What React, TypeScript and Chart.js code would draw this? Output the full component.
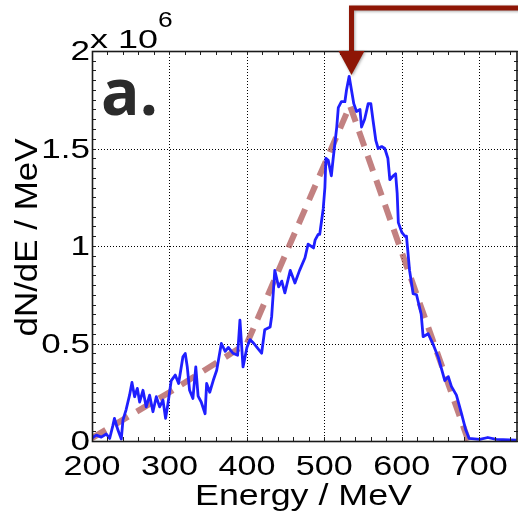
import React, { useEffect, useRef } from "react";
import { Chart, registerables } from "chart.js";

Chart.register(...registerables);

// Measured spectrum (dN/dE in units of 10^6 per MeV)
const energy = [
  199, 205.6, 212, 218.5, 222.8, 227, 229, 233.5, 237.8, 240, 244, 248.5, 251.6, 255, 258.5,
  261.5, 265.8, 270, 274.4, 278.7, 283, 287.3, 291.6, 295, 298, 302.3, 307.5, 311.8, 317.4,
  320.4, 323, 326, 330.3, 334, 337, 341, 346, 348, 352, 356.5, 361, 367, 372, 376, 382, 388,
  391, 395, 400, 404, 409, 413, 419, 423, 430, 432, 436, 441, 445, 449, 456, 462, 468, 475,
  479, 486, 488, 492, 494, 498.5, 500.7, 502, 505, 509, 511.4, 516, 518, 522, 526.5, 528.6,
  532, 535, 538, 541.5, 546, 548, 552, 556.6, 560, 563, 566.5, 569.5, 574, 578, 582, 584.5,
  589, 592, 594, 595.5, 600, 604, 606, 610, 614.6, 619, 625, 627.5, 634, 640, 647, 655.5,
  660, 664, 670.5, 677, 682.6, 686.9, 700.6, 711, 722, 748,
];
const counts = [
  0.013, 0.03, 0.02, 0.036, 0.013, 0.08, 0.116, 0.056, 0.01, 0.108, 0.16, 0.235, 0.3, 0.227, 0.27,
  0.2, 0.26, 0.175, 0.235, 0.15, 0.227, 0.175, 0.21, 0.116, 0.19, 0.31, 0.338, 0.295, 0.432,
  0.449, 0.38, 0.26, 0.218, 0.38, 0.23, 0.2, 0.14, 0.295, 0.25, 0.31, 0.363, 0.5, 0.46, 0.48, 0.45, 0.44,
  0.62, 0.38, 0.48, 0.52, 0.5, 0.48, 0.45, 0.57, 0.585, 0.64, 0.875, 0.79, 0.82, 0.76, 0.875, 0.81, 0.875, 0.94,
  1.01, 0.99, 1.03, 1.06, 1.06, 1.19, 1.3, 1.45, 1.44, 1.36, 1.45, 1.61, 1.71, 1.74, 1.74, 1.8,
  1.87, 1.8, 1.73, 1.69, 1.7, 1.61, 1.65, 1.73, 1.73, 1.64, 1.54, 1.5, 1.51, 1.5, 1.45, 1.34,
  1.36, 1.37, 1.27, 1.12, 1.07, 1.05, 1.05, 0.875, 0.755, 0.75, 0.65, 0.535, 0.55, 0.5, 0.43, 0.31,
  0.33, 0.28, 0.235, 0.142, 0.056, 0.013, 0.008, 0.018, 0.008, 0.005,
];

// Fitted (dashed) model
const fitEnergy = [200, 300, 400, 533, 686];
const fitCounts = [0.015, 0.25, 0.5, 1.72, 0];

// Axes
const xTicks = [200, 300, 400, 500, 600, 700];
const xTickLabels = ["200", "300", "400", "500", "600", "700"];
const yTicks = [0, 0.5, 1, 1.5, 2];
const yTickLabels = ["0", "0.5", "1", "1.5", "2"];
const xMin = 200, xMax = 750, yMin = 0, yMax = 2;
const xTitle = "Energy / MeV";
const yTitle = "dN/dE / MeV";
const panelLabel = "a.";
const FONT = '"Liberation Sans", Arial, sans-serif';

function drawText(ctx, s, x, y, font, align, sx, baseline = "alphabetic") {
  ctx.save();
  ctx.translate(x, y);
  ctx.scale(sx, 1);
  ctx.font = font;
  ctx.textAlign = align;
  ctx.textBaseline = baseline;
  ctx.fillText(s, 0, 0);
  ctx.restore();
}

function fitWidth(ctx, s, font, target) {
  ctx.save();
  ctx.font = font;
  const w = ctx.measureText(s).width;
  ctx.restore();
  return target / w;
}

const overlay = {
  id: "overlay",
  beforeDatasetsDraw(chart) {
    const { ctx, chartArea: a, scales } = chart;
    const x = scales.x, y = scales.y;
    ctx.save();
    ctx.strokeStyle = "#000";
    ctx.lineWidth = 1;
    ctx.setLineDash([1, 2]);
    for (const t of xTicks) {
      const px = Math.round(x.getPixelForValue(t)) + 0.5;
      ctx.beginPath(); ctx.moveTo(px, a.top); ctx.lineTo(px, a.bottom); ctx.stroke();
    }
    for (const t of yTicks) {
      const py = Math.round(y.getPixelForValue(t)) + 0.5;
      ctx.beginPath(); ctx.moveTo(a.left, py); ctx.lineTo(a.right, py); ctx.stroke();
    }
    ctx.restore();
  },
  afterDatasetsDraw(chart) {
    const { ctx, chartArea: a, scales } = chart;
    const x = scales.x, y = scales.y;
    ctx.save();
    // minor ticks (inward)
    ctx.strokeStyle = "#222";
    ctx.lineWidth = 1;
    for (let i = 0; i * 20 + xMin < xMax; i++) {
      const px = Math.round(x.getPixelForValue(xMin + i * 20)) + 0.5;
      ctx.beginPath(); ctx.moveTo(px, a.bottom); ctx.lineTo(px, a.bottom - 4); ctx.stroke();
      ctx.beginPath(); ctx.moveTo(px, a.top); ctx.lineTo(px, a.top + 4); ctx.stroke();
    }
    for (let i = 0; i <= 40; i++) {
      const py = Math.round(y.getPixelForValue(i * 0.05)) + 0.5;
      ctx.beginPath(); ctx.moveTo(a.left, py); ctx.lineTo(a.left + 4, py); ctx.stroke();
      ctx.beginPath(); ctx.moveTo(a.right, py); ctx.lineTo(a.right - 4, py); ctx.stroke();
    }
    // frame
    ctx.strokeStyle = "#1a1a1a";
    ctx.lineWidth = 1.6;
    ctx.strokeRect(a.left + 0.5, a.top + 0.5, a.right - a.left - 1.5, a.bottom - a.top);

    // tick labels
    ctx.fillStyle = "#000";
    const tf = `28px ${FONT}`;
    yTicks.forEach((t, i) => {
      drawText(ctx, yTickLabels[i], 90, y.getPixelForValue(t) + 1.5, tf, "right", 1.25, "middle");
    });
    xTicks.forEach((t, i) => {
      drawText(ctx, xTickLabels[i], x.getPixelForValue(t), 475, tf, "center", 1.22);
    });
    // x title
    const xf = `30px ${FONT}`;
    drawText(ctx, xTitle, 303.5, 505, xf, "center", fitWidth(ctx, xTitle, xf, 217));
    // y title
    const yf = `31px ${FONT}`;
    ctx.save();
    ctx.translate(37, 237.5);
    ctx.rotate(-Math.PI / 2);
    ctx.scale(fitWidth(ctx, yTitle, yf, 198), 1);
    ctx.font = yf;
    ctx.textAlign = "center";
    ctx.textBaseline = "alphabetic";
    ctx.fillText(yTitle, 0, 0);
    ctx.restore();
    // exponent
    const ef = `26px ${FONT}`;
    drawText(ctx, "x 10", 90, 48, ef, "left", fitWidth(ctx, "x 10", ef, 68));
    drawText(ctx, "6", 158, 27, `22px ${FONT}`, "left", 1.2);
    // panel label
    ctx.fillStyle = "#2b2b2b";
    drawText(ctx, panelLabel, 101, 115, `bold 64px "Open Sans", ${FONT}`, "left", 1);

    // red arrow
    ctx.shadowColor = "rgba(0,0,0,0.35)";
    ctx.shadowBlur = 3;
    ctx.shadowOffsetX = 1;
    ctx.shadowOffsetY = 1;
    ctx.strokeStyle = "#8e1606";
    ctx.fillStyle = "#8e1606";
    ctx.lineWidth = 5;
    ctx.lineJoin = "miter";
    ctx.beginPath();
    ctx.moveTo(530, 8);
    ctx.lineTo(351.5, 8);
    ctx.lineTo(351.5, 58);
    ctx.stroke();
    ctx.beginPath();
    ctx.moveTo(338.5, 51);
    ctx.lineTo(364.5, 51);
    ctx.lineTo(351.5, 75);
    ctx.closePath();
    ctx.fill();
    ctx.restore();
  },
};

export default function App() {
  const ref = useRef(null);
  useEffect(() => {
    const spectrum = energy.map((e, i) => ({ x: e, y: counts[i] }));
    const fit = fitEnergy.map((e, i) => ({ x: e, y: fitCounts[i] }));
    const chart = new Chart(ref.current, {
      type: "line",
      data: {
        datasets: [
          {
            label: "spectrum",
            data: spectrum,
            borderColor: "#1f1fff",
            borderWidth: 2.8,
            borderJoinStyle: "round",
            pointRadius: 0,
            tension: 0,
            fill: false,
          },
          {
            label: "fit",
            data: fit,
            borderColor: "rgba(170,80,80,0.72)",
            borderWidth: 6,
            borderDash: [16, 10],
            borderCapStyle: "butt",
            pointRadius: 0,
            tension: 0,
            fill: false,
          },
        ],
      },
      options: {
        responsive: false,
        animation: false,
        devicePixelRatio: 1,
        layout: { padding: { left: 0, top: 51, right: 0, bottom: 0 } },
        plugins: { legend: { display: false }, tooltip: { enabled: false } },
        scales: {
          x: {
            type: "linear",
            min: xMin,
            max: xMax,
            grid: { display: false },
            border: { display: false },
            ticks: { display: false },
            afterFit: (s) => { s.height = 75; },
          },
          y: {
            type: "linear",
            min: yMin,
            max: yMax,
            grid: { display: false },
            border: { display: false },
            ticks: { display: false },
            afterFit: (s) => { s.width = 92; },
          },
        },
      },
      plugins: [overlay],
    });
    return () => chart.destroy();
  }, []);
  return (
    <div style={{ position: "absolute", left: 0, top: 0, width: 518, height: 516, background: "#fff" }}>
      <canvas ref={ref} width={518} height={516} style={{ width: 518, height: 516, display: "block" }} />
    </div>
  );
}
